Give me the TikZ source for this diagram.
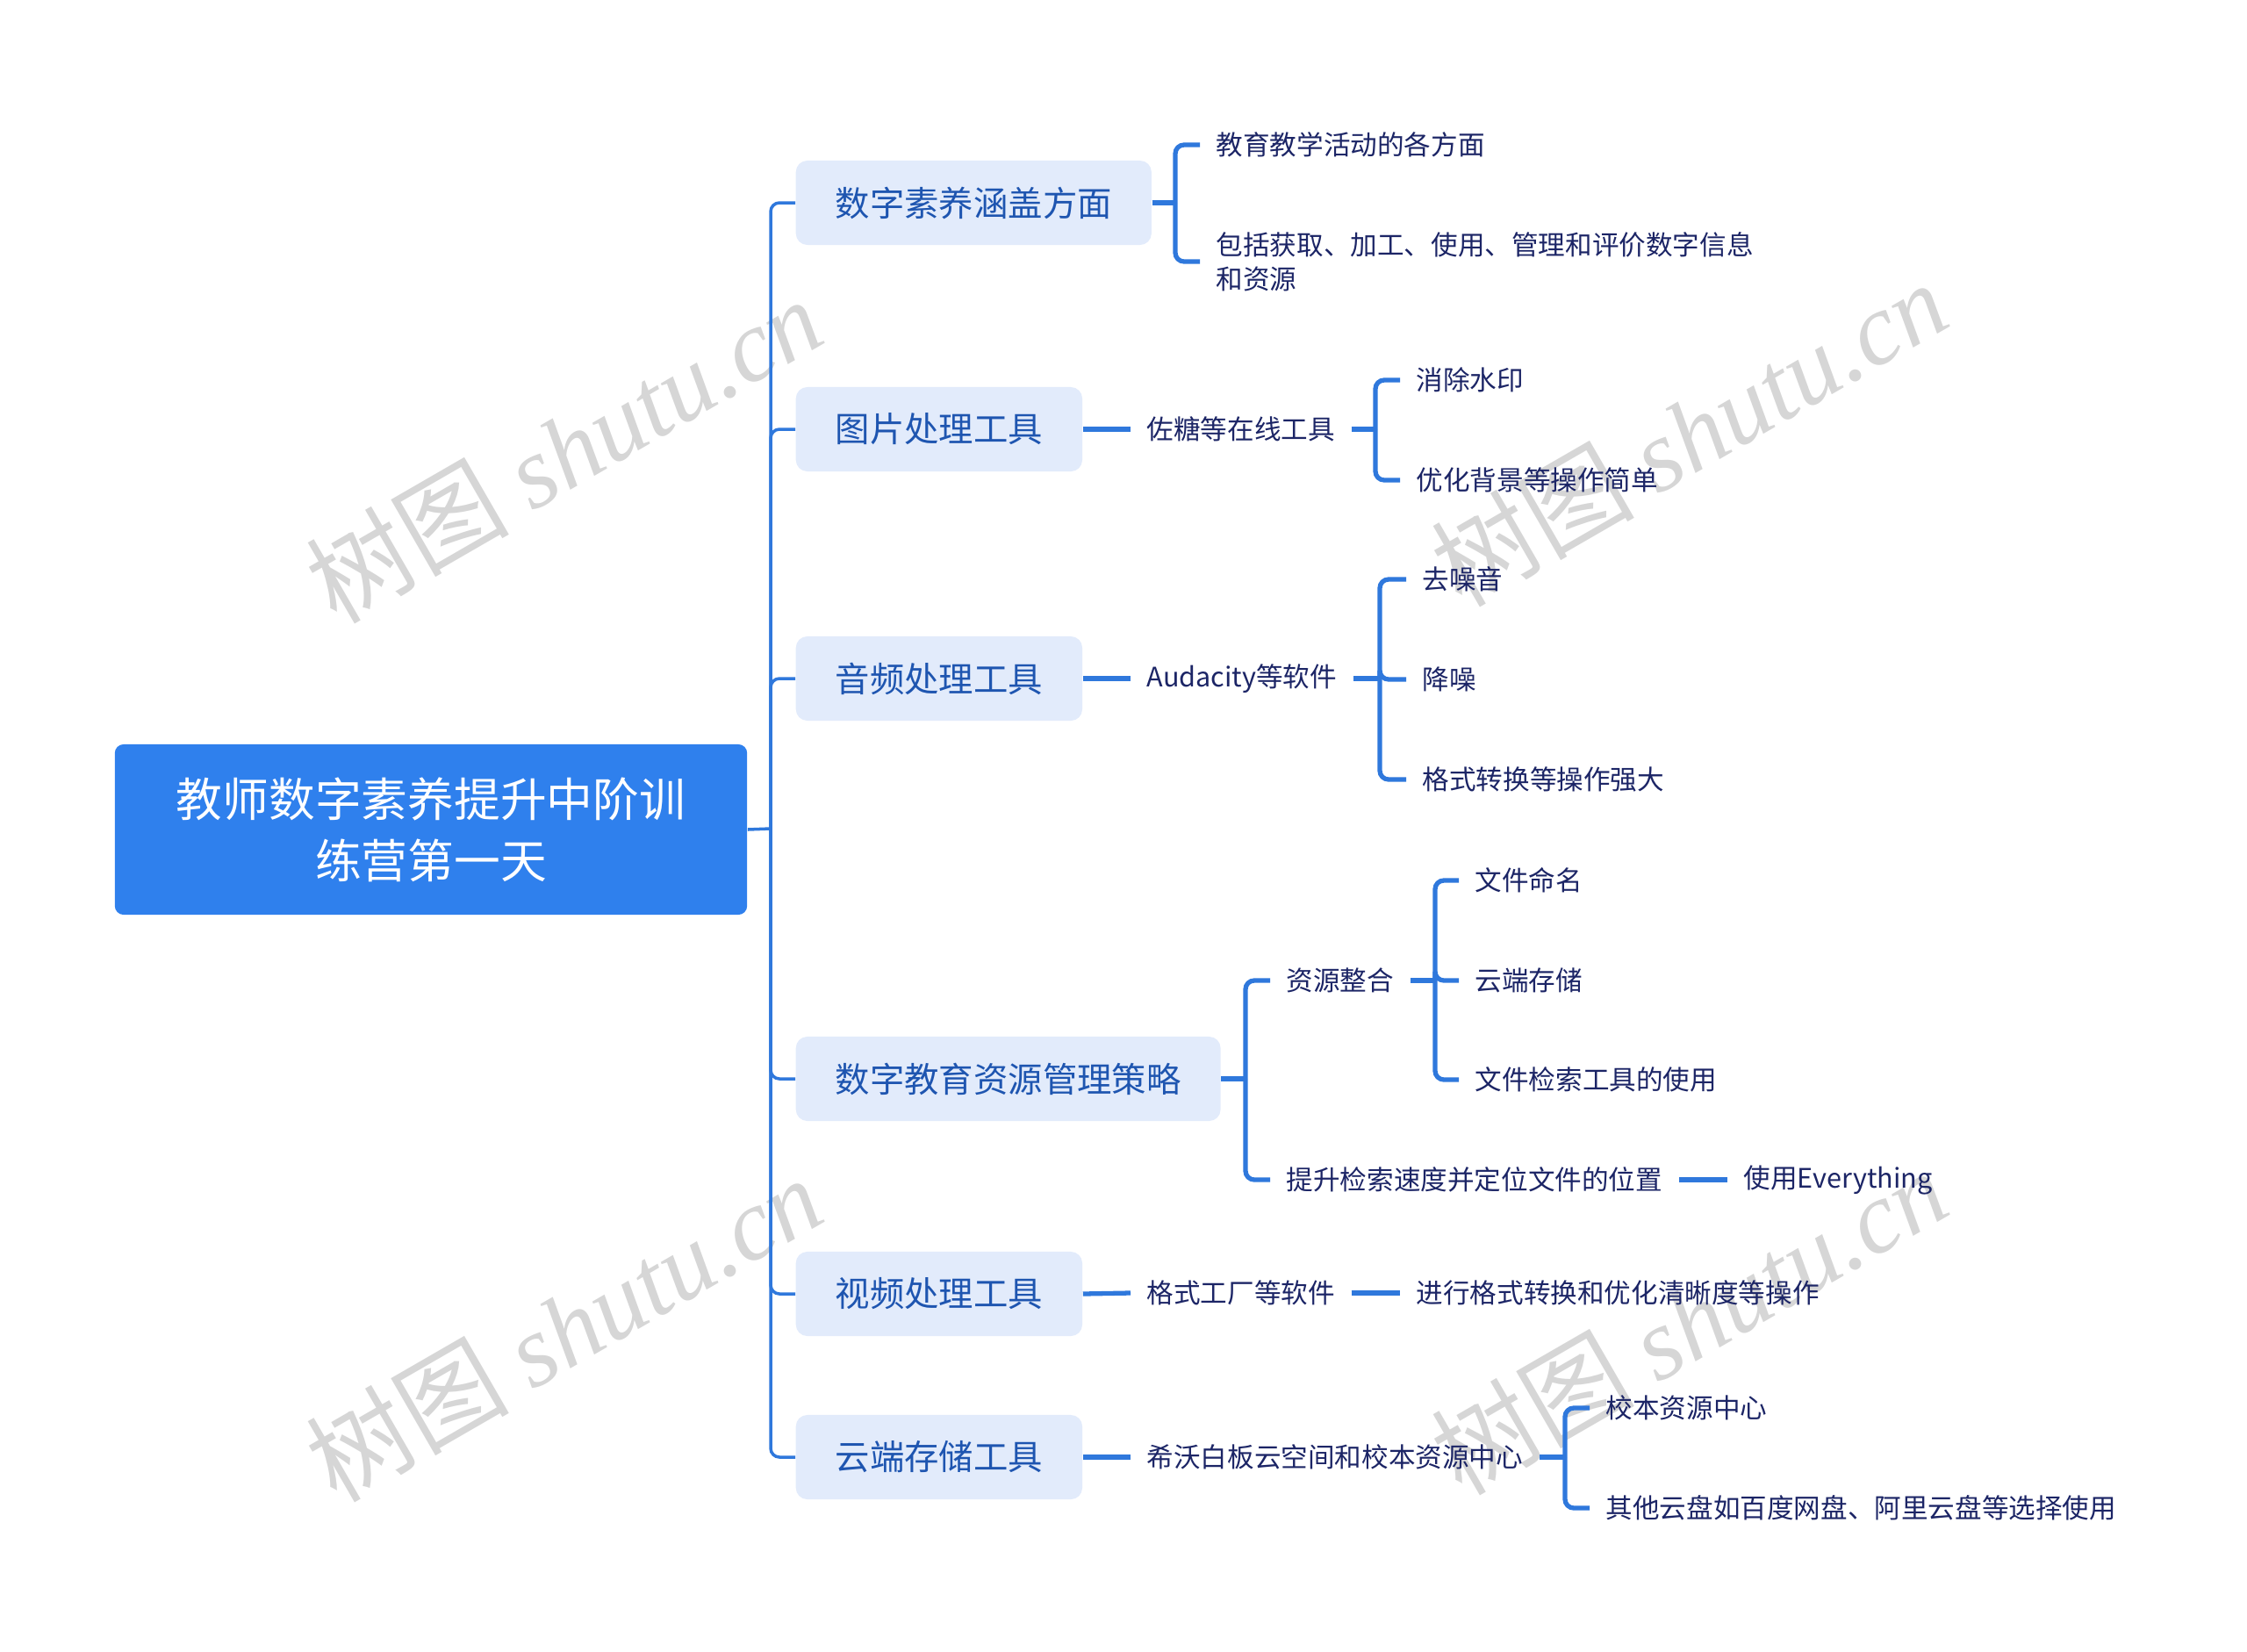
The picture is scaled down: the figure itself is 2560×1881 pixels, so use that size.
\documentclass[tikz,border=0pt]{standalone}
\usepackage{fontspec}
\setmainfont{Noto Sans CJK SC}
\newfontfamily\wmlatin{Liberation Serif}
\definecolor{rootblue}{HTML}{2F80ED}
\definecolor{boxfill}{HTML}{E2EBFB}
\definecolor{linkblue}{HTML}{2F78DC}
\definecolor{lvtext}{HTML}{1E55B0}
\definecolor{leaftext}{HTML}{1C2566}
\definecolor{wmgray}{HTML}{D6D6D6}
\newcommand{\wmark}{{\fontsize{33}{33}\selectfont 树图 {\wmlatin\itshape shutu.cn}}}

\begin{document}
\begin{tikzpicture}[x=0.01cm, y=-0.01cm,
  rootbox/.style={fill=rootblue, rounded corners=0.1cm, minimum width=7.2cm, minimum height=1.94cm, text=white, align=center, font=\fontsize{15}{20}\selectfont},
  topic/.style={fill=boxfill, rounded corners=0.13cm, anchor=west, inner xsep=0.45cm, minimum height=0.96cm, text=lvtext, font=\fontsize{11.2}{14}\selectfont},
  leaf/.style={anchor=west, inner xsep=0.18cm, text=leaftext, align=left, font=\fontsize{8.7}{11.2}\selectfont},
  trunk/.style={draw=linkblue, line width=1pt, rounded corners=0.1cm},
  link/.style={draw=linkblue, line width=1.5pt, rounded corners=0.1cm},
  wm/.style={text=wmgray, rotate=30}
]
\useasboundingbox (0,0) rectangle (2560,1881);

% watermarks
\node[wm] (wm1) at (642,512) {\wmark};
\node[wm] (wm2) at (1924,493) {\wmark};
\node[wm] (wm3) at (642,1513) {\wmark};
\node[wm] (wm4) at (1924,1505) {\wmark};

% root and main branches
\node[rootbox] (root) at (491,945) {教师数字素养提升中阶训\\练营第一天};
\node[topic] (cover) at (906,231) {数字素养涵盖方面};
\node[topic] (image) at (906,489) {图片处理工具};
\node[topic] (audio) at (906,773) {音频处理工具};
\node[topic] (manage) at (906,1229) {数字教育资源管理策略};
\node[topic] (video) at (906,1474) {视频处理工具};
\node[topic] (cloud) at (906,1660) {云端存储工具};

\coordinate (jroot) at (878,944);
\draw[trunk] (root.east) -- (jroot);
\foreach \t in {cover,image,audio,manage,video,cloud}
  \draw[trunk] (jroot) |- (\t.west);

% digital literacy
\node[leaf] (teach) at (1367,165) {教育教学活动的各方面};
\node[leaf] (scope) at (1367,298) {包括获取、加工、使用、管理和评价数字信息\\和资源};
\coordinate (jcover) at (1339,231);
\draw[link] (cover.east) -- (jcover);
\foreach \c in {teach,scope}
  \draw[link] (jcover) |- (\c.west);

% image tools
\node[leaf] (zuotang) at (1288,489) {佐糖等在线工具};
\node[leaf] (nomark) at (1595,433) {消除水印};
\node[leaf] (bgopt) at (1595,547) {优化背景等操作简单};
\draw[link] (image.east) -- (zuotang.west);
\coordinate (jimage) at (1567,489);
\draw[link] (zuotang.east) -- (jimage);
\foreach \c in {nomark,bgopt}
  \draw[link] (jimage) |- (\c.west);

% audio tools
\node[leaf] (audacity) at (1288,773) {Audacity等软件};
\node[leaf] (denoise) at (1602,660) {去噪音};
\node[leaf] (reduce) at (1602,774) {降噪};
\node[leaf] (convert) at (1602,888) {格式转换等操作强大};
\draw[link] (audio.east) -- (audacity.west);
\coordinate (jaudio) at (1572,773);
\draw[link] (audacity.east) -- (jaudio);
\foreach \c in {denoise,reduce,convert}
  \draw[link] (jaudio) |- (\c.west);

% resource management
\node[leaf] (merge) at (1447,1117) {资源整合};
\node[leaf] (search) at (1447,1344) {提升检索速度并定位文件的位置};
\node[leaf] (naming) at (1662,1003) {文件命名};
\node[leaf] (store) at (1662,1117) {云端存储};
\node[leaf] (finder) at (1662,1230) {文件检索工具的使用};
\node[leaf] (everything) at (1968,1344) {使用Everything};
\coordinate (jmanage) at (1419,1229);
\draw[link] (manage.east) -- (jmanage);
\foreach \c in {merge,search}
  \draw[link] (jmanage) |- (\c.west);
\coordinate (jmerge) at (1635,1117);
\draw[link] (merge.east) -- (jmerge);
\foreach \c in {naming,store,finder}
  \draw[link] (jmerge) |- (\c.west);
\draw[link] (search.east) -- (everything.west);

% video tools
\node[leaf] (factory) at (1288,1473) {格式工厂等软件};
\node[leaf] (clarity) at (1595,1473) {进行格式转换和优化清晰度等操作};
\draw[link] (video.east) -- (factory.west);
\draw[link] (factory.east) -- (clarity.west);

% cloud storage
\node[leaf] (seewo) at (1288,1660) {希沃白板云空间和校本资源中心};
\node[leaf] (school) at (1811,1604) {校本资源中心};
\node[leaf] (others) at (1811,1718) {其他云盘如百度网盘、阿里云盘等选择使用};
\draw[link] (cloud.east) -- (seewo.west);
\coordinate (jcloud) at (1783,1660);
\draw[link] (seewo.east) -- (jcloud);
\foreach \c in {school,others}
  \draw[link] (jcloud) |- (\c.west);
\end{tikzpicture}
\end{document}
